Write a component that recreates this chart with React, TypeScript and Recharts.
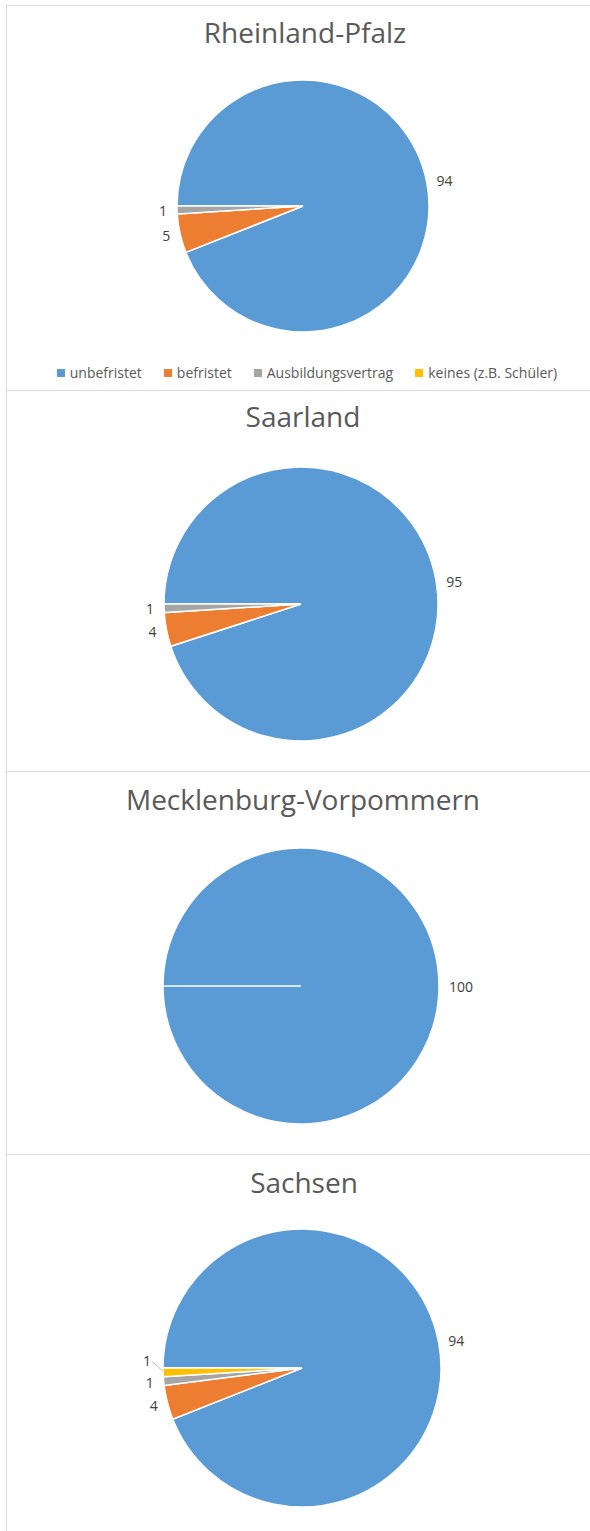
import { Cell, Pie, PieChart } from "recharts";

const CATEGORIES = ["unbefristet", "befristet", "Ausbildungsvertrag", "keines (z.B. Schüler)"];
const COLORS = ["#5b9bd5", "#ed7d31", "#a5a5a5", "#ffc000"];

const RHEINLAND_PFALZ = [94, 5, 1, 0];
const SAARLAND = [95, 4, 1, 0];
const MECKLENBURG_VORPOMMERN = [100, 0, 0, 0];
const SACHSEN = [94, 4, 1, 1];

const BORDER = "#d9d9d9";
const FONT = "'Open Sans', sans-serif";
const START = 180;
const END = -180;
const RAD = Math.PI / 180;

// layout of the four stacked chart boxes (page coordinates for top)
const PANELS = [
  { title: "Rheinland-Pfalz", values: RHEINLAND_PFALZ, top: 5, height: 385, cx: 296, cy: 200, r: 126, titleTop: 7, legend: true },
  { title: "Saarland", values: SAARLAND, top: 390, height: 381, cx: 294, cy: 213, r: 137, titleTop: 6, legend: false },
  { title: "Mecklenburg-Vorpommern", values: MECKLENBURG_VORPOMMERN, top: 771, height: 383, cx: 294, cy: 214, r: 138, titleTop: 8, legend: false },
  { title: "Sachsen", values: SACHSEN, top: 1154, height: 377, cx: 295, cy: 213, r: 139, titleTop: 8, legend: false },
];

type LabelPos = { x: number; y: number; ax: number; ay: number; left: boolean; moved: boolean } | null;

// outside-end labels, pushed apart vertically when small slices crowd together
function layoutLabels(values: number[], cx: number, cy: number, r: number): LabelPos[] {
  const total = values.reduce((a, b) => a + b, 0);
  let angle = START;
  const out: LabelPos[] = values.map((v) => {
    const sweep = ((END - START) * v) / total;
    const mid = angle + sweep / 2;
    angle += sweep;
    if (v === 0) return null;
    const cos = Math.cos(-mid * RAD);
    const sin = Math.sin(-mid * RAD);
    return {
      x: cx + (r + 10) * cos,
      y: cy + (r + 10) * sin,
      ax: cx + r * cos,
      ay: cy + r * sin,
      left: cos < 0,
      moved: false,
    };
  });
  const left = out.filter((p): p is NonNullable<LabelPos> => !!p && p.left).sort((a, b) => b.y - a.y);
  for (let i = 1; i < left.length; i++) {
    if (left[i - 1].y - left[i].y < 15) {
      left[i].y = left[i - 1].y - 15 - (left[i].moved ? 0 : 7);
      left[i].x -= 2;
      left[i].moved = true;
    }
  }
  return out;
}

function Legend() {
  return (
    <div
      style={{
        position: "absolute",
        top: 357,
        left: 0,
        width: 600,
        display: "flex",
        justifyContent: "center",
        gap: 22,
        fontFamily: FONT,
        fontSize: 14,
        color: "#595959",
        lineHeight: "20px",
      }}
    >
      {CATEGORIES.map((c, i) => (
        <span key={c} style={{ display: "flex", alignItems: "center" }}>
          <span style={{ width: 8, height: 8, background: COLORS[i], marginRight: 5 }} />
          {c}
        </span>
      ))}
    </div>
  );
}

function Panel({ p }: { p: (typeof PANELS)[number] }) {
  const rows = p.values.map((v, i) => ({ name: CATEGORIES[i], value: v }));
  const labels = layoutLabels(p.values, p.cx, p.cy, p.r);

  const renderLabel = (props: any) => {
    const pos = labels[props.index];
    if (!pos) return null;
    return (
      <g key={`l-${props.index}`}>
        {pos.moved && (
          <polyline
            points={`${pos.ax},${pos.ay - 1} ${pos.x + 4},${pos.y + 4} ${pos.x + 1},${pos.y + 2}`}
            fill="none"
            stroke="#a6a6a6"
            strokeWidth={0.8}
          />
        )}
        <text
          x={pos.x}
          y={pos.y}
          textAnchor={pos.left ? "end" : "start"}
          dominantBaseline="central"
          fontFamily={FONT}
          fontSize={14}
          fill="#404040"
        >
          {props.value}
        </text>
      </g>
    );
  };

  return (
    <div
      style={{
        position: "absolute",
        top: p.top,
        left: 6,
        width: 600,
        height: p.height,
        borderTop: `1px solid ${BORDER}`,
        borderLeft: `1px solid ${BORDER}`,
        boxSizing: "border-box",
      }}
    >
      <div
        style={{
          position: "absolute",
          top: p.titleTop,
          left: 0,
          width: p.cx * 2 + 4,
          textAlign: "center",
          fontFamily: FONT,
          fontSize: 28,
          lineHeight: "38px",
          color: "#595959",
          whiteSpace: "nowrap",
        }}
      >
        {p.title}
      </div>
      <PieChart
        width={590}
        height={p.height - 1}
        margin={{ top: 0, right: 0, bottom: 0, left: 0 }}
        style={{ position: "absolute", top: 0, left: 0 }}
      >
        <Pie
          data={rows}
          dataKey="value"
          nameKey="name"
          cx={p.cx}
          cy={p.cy}
          outerRadius={p.r}
          startAngle={START}
          endAngle={END}
          stroke="#ffffff"
          strokeWidth={1.5}
          label={renderLabel}
          labelLine={false}
          isAnimationActive={false}
        >
          {rows.map((r, i) => (
            <Cell key={r.name} fill={COLORS[i]} />
          ))}
        </Pie>
      </PieChart>
      {p.legend && <Legend />}
    </div>
  );
}

export default function App() {
  return (
    <div style={{ position: "absolute", top: 0, left: 0, width: 590, height: 1531, background: "#fff", overflow: "hidden" }}>
      {PANELS.map((p) => (
        <Panel key={p.title} p={p} />
      ))}
    </div>
  );
}
